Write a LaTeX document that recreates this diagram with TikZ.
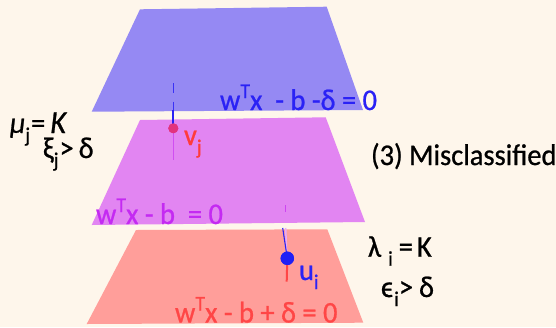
\documentclass[tikz,border=0pt]{standalone}
\usepackage{fontspec}
\setmainfont{Carlito}[FakeStretch=0.95, FakeBold=0.8]
\definecolor{bgc}{HTML}{FEF6EB}
\definecolor{bluep}{HTML}{9589F3}
\definecolor{magp}{HTML}{E285F2}
\definecolor{redp}{HTML}{FF9E9A}
\definecolor{bluet}{HTML}{2A22F5}
\definecolor{magt}{HTML}{C42AF2}
\definecolor{redt}{HTML}{FF4646}
\definecolor{vjt}{HTML}{FF3B3B}
\definecolor{vdot}{HTML}{E2337E}
\definecolor{udot}{HTML}{1F1FF5}
\newcommand\supT{\raisebox{0.4em}{\fontsize{21}{21}\selectfont T}}
\newcommand\subs[1]{\raisebox{-0.3em}{\fontsize{21}{21}\selectfont #1}}
\tikzset{
  lbl/.style={anchor=base west, inner sep=0pt, outer sep=0pt, font=\fontsize{30}{32}\selectfont},
  dotv/.style={circle, fill=vdot, inner sep=0pt, minimum size=10pt},
  dotu/.style={circle, fill=udot, inner sep=0pt, minimum size=13.4pt},
}
\begin{document}
\begin{tikzpicture}[x=1pt,y=-1pt]
\useasboundingbox (0,0) rectangle (556,327);
\fill[bgc] (0,0) rectangle (556,327);
% planes
\fill[bluep] (140,9.3) -- (326.7,6.7) -- (363,110) -- (91.7,111.7) -- cycle;
\fill[magp] (140,120) -- (325.7,117.3) -- (365,222) -- (91.7,225) -- cycle;
\fill[redp] (136,230) -- (327.3,229.3) -- (363.3,322.7) -- (86.7,324) -- cycle;
% v_j point and lines
\coordinate (d1a) at (173.3,83);
\coordinate (d1b) at (173.3,93);
\coordinate (d2a) at (173.3,101.7);
\coordinate (d2b) at (173.3,110);
\node[dotv] (vj) at (173.3,128.3) {};
\coordinate (vjlow) at (173.3,160);
\draw[color=bluet!85!bluep, line width=1.6pt] (d1a) -- (d1b);
\draw[color=bluet!85!bluep, line width=1.6pt] (d2a) -- (d2b);
\draw[color=bluet, line width=2pt] (d2b) -- (vj.center);
\draw[color=magt!60!magp, line width=1.5pt] (vj.center) -- (vjlow);
% u_i point and lines
\coordinate (tka) at (285.7,205);
\coordinate (tkb) at (285.7,211.7);
\draw[color=magt!70!magp, line width=1.5pt] (tka) -- (tkb);
\coordinate (ua) at (282.7,228);
\coordinate (pa) at (285.7,228);
\coordinate (pb) at (286.6,251);
\node[dotu] (ui) at (287.3,258.3) {};
\coordinate (uilow) at (286.7,281.7);
\draw[color=magp!70!white, line width=1.5pt] (pa) -- (pb);
\draw[color=bluet, line width=1.1pt] (ua) -- (ui.center);
\draw[color=redt, line width=2pt] (ui.center) -- (uilow);
\node[dotu] at (ui) {};
\node[dotv] at (vj) {};
% labels
\node[lbl, text=bluet] (eqb) at (220,110) {w\supT x\ \ - b -δ = 0};
\node[lbl, text=magt] (eqm) at (96,224) {w\supT x - b\ \ = 0};
\node[lbl, text=redt] (eqr) at (175,322.5) {w\supT x - b + δ = 0};
\node[lbl, text=vjt] (lvj) at (184,145) {v\subs{j}};
\node[lbl, text=bluet] (lui) at (299,280) {u\subs{i}};
\node[lbl] (mu) at (10,133) {\textit{μ}\subs{j}\hspace{1pt}=\hspace{5pt}{\fontsize{32}{32}\selectfont\textit{K}}};
\node[lbl] (xi) at (43,158) {ξ\subs{j}\hspace{1pt}>\hspace{5pt}δ};
\node[lbl] (lam) at (368,256.7) {λ\hspace{7pt}\subs{i}\hspace{6pt}=\hspace{4pt}K};
\node[lbl] (eps) at (381,297) {ϵ\hspace{1pt}\subs{i}>\hspace{6pt}δ};
\node[lbl] (mis) at (371,165) {(3) Misclassified};
\end{tikzpicture}
\end{document}
